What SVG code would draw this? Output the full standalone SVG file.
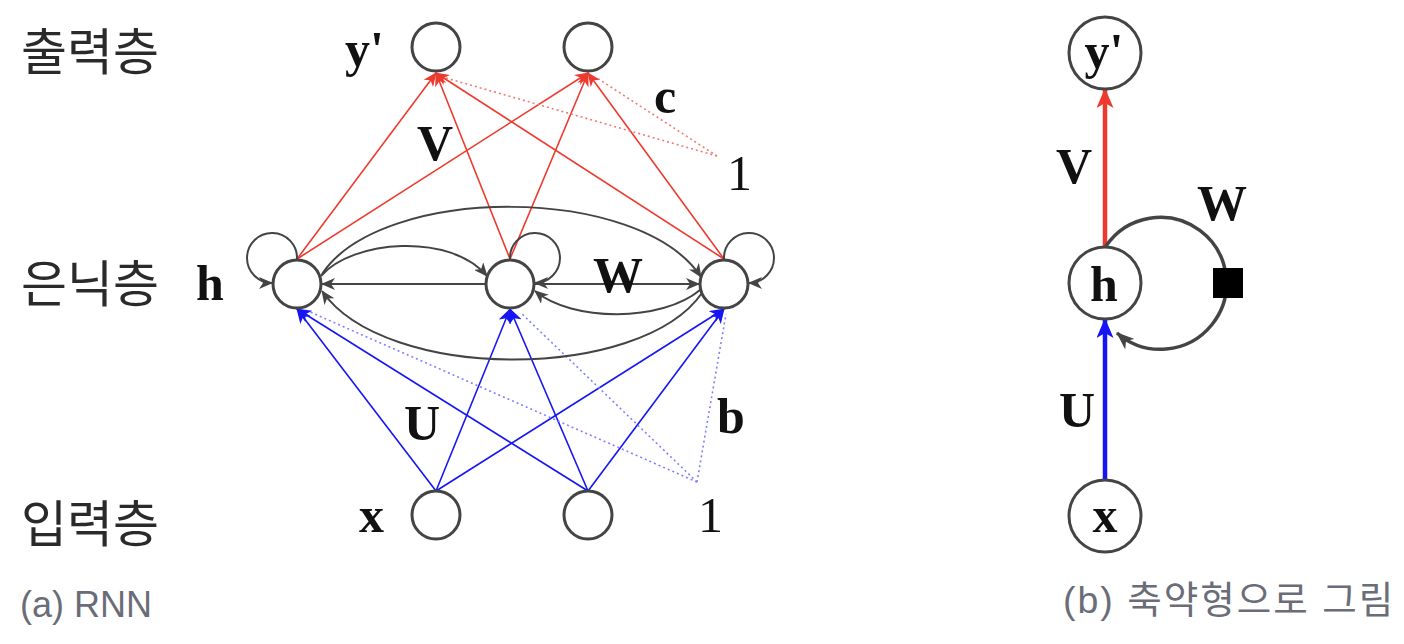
<svg xmlns="http://www.w3.org/2000/svg" width="1404" height="644" viewBox="0 0 1404 644">
<style>
.node{fill:#fff;stroke:#444;stroke-width:3}
.nodeb{fill:#fff;stroke:#444;stroke-width:3}
.red{stroke:#ee3a2e;stroke-width:1.6;fill:none}
.blue{stroke:#1515f5;stroke-width:1.6;fill:none}
.redd{stroke:#f07a72;stroke-width:1.6;fill:none;stroke-dasharray:2 3}
.blued{stroke:#8080ff;stroke-width:1.6;fill:none;stroke-dasharray:2 3}
.gray{stroke:#444;stroke-width:2;fill:none}
.lbl{font-family:"Liberation Serif",serif;font-weight:bold;font-size:50px;fill:#111}
.one{font-family:"Liberation Serif",serif;font-size:50px;fill:#111}
.kor{font-family:"Noto Sans CJK KR","Noto Sans",sans-serif;font-size:50px;fill:#2a2a2a}
.cap{font-family:"Liberation Sans","Noto Sans CJK KR",sans-serif;font-size:36px;fill:#6a6d78}
.capk{font-family:"Liberation Sans","Noto Sans CJK KR",sans-serif;font-size:37.5px;letter-spacing:2px;fill:#6a6d78}
</style>
<defs>
<marker id="ag" markerUnits="userSpaceOnUse" markerWidth="14" markerHeight="12" refX="13" refY="6" orient="auto" viewBox="0 0 14 12"><path d="M0,0 L14,6 L0,12 L4,6 z" fill="#444"/></marker>
<marker id="ar" markerUnits="userSpaceOnUse" markerWidth="14" markerHeight="12" refX="13" refY="6" orient="auto" viewBox="0 0 14 12"><path d="M0,0 L14,6 L0,12 L4,6 z" fill="#ee3a2e"/></marker>
<marker id="ab" markerUnits="userSpaceOnUse" markerWidth="15" markerHeight="13" refX="14" refY="6.5" orient="auto" viewBox="0 0 15 13"><path d="M0,0 L15,6.5 L0,13 L4,6.5 z" fill="#1515f5"/></marker>
<marker id="arB" markerUnits="userSpaceOnUse" markerWidth="20" markerHeight="17" refX="19" refY="8.5" orient="auto" viewBox="0 0 20 17"><path d="M0,0 L20,8.5 L0,17 L5,8.5 z" fill="#ee3a2e"/></marker>
<marker id="abB" markerUnits="userSpaceOnUse" markerWidth="20" markerHeight="17" refX="19" refY="8.5" orient="auto" viewBox="0 0 20 17"><path d="M0,0 L20,8.5 L0,17 L5,8.5 z" fill="#1515f5"/></marker>
<marker id="agB" markerUnits="userSpaceOnUse" markerWidth="18" markerHeight="14" refX="17" refY="7" orient="auto" viewBox="0 0 18 14"><path d="M0,0 L18,7 L0,14 L5,7 z" fill="#444"/></marker>
</defs>

<g id="layer-labels">
<text class="kor" x="21" y="70">출력층</text>
<text class="kor" x="21" y="302">은닉층</text>
<text class="kor" x="21" y="542">입력층</text>
<text class="cap" x="20" y="617">(a) RNN</text>
<text class="capk" x="1063" y="613">(b) 축약형으로 그림</text>
</g>

<g id="connectors">
<!-- red: hidden to output -->
<line class="red" x1="297" y1="259" x2="436" y2="73" marker-end="url(#ar)"/>
<line class="red" x1="297" y1="259" x2="588" y2="73" marker-end="url(#ar)"/>
<line class="red" x1="510" y1="259" x2="436" y2="73" marker-end="url(#ar)"/>
<line class="red" x1="510" y1="259" x2="588" y2="73" marker-end="url(#ar)"/>
<line class="red" x1="724" y1="259" x2="436" y2="73" marker-end="url(#ar)"/>
<line class="red" x1="724" y1="259" x2="588" y2="73" marker-end="url(#ar)"/>
<line class="redd" x1="717" y1="156" x2="446" y2="78"/>
<line class="redd" x1="717" y1="156" x2="597" y2="78"/>
<!-- blue: input to hidden -->
<line class="blue" x1="436" y1="491" x2="297" y2="309" marker-end="url(#ab)"/>
<line class="blue" x1="436" y1="491" x2="510" y2="309" marker-end="url(#ab)"/>
<line class="blue" x1="436" y1="491" x2="724" y2="309" marker-end="url(#ab)"/>
<line class="blue" x1="588" y1="491" x2="297" y2="309" marker-end="url(#ab)"/>
<line class="blue" x1="588" y1="491" x2="510" y2="309" marker-end="url(#ab)"/>
<line class="blue" x1="588" y1="491" x2="724" y2="309" marker-end="url(#ab)"/>
<line class="blued" x1="697" y1="482" x2="310" y2="312"/>
<line class="blued" x1="697" y1="482" x2="522" y2="314"/>
<line class="blued" x1="697" y1="482" x2="726" y2="314"/>
<!-- gray recurrent -->
<path class="gray" d="M297,259 A25,25 0 1 0 272,283" marker-end="url(#ag)"/>
<path class="gray" d="M510,259 A25,25 0 1 1 535,283" marker-end="url(#ag)"/>
<path class="gray" d="M724,259 A25,25 0 1 1 749,283" marker-end="url(#ag)"/>
<path class="gray" d="M321,276 C352,240 450,232 487,276" marker-end="url(#ag)"/>
<line class="gray" x1="486" y1="284" x2="322" y2="284" marker-end="url(#ag)"/>
<line class="gray" x1="534" y1="284" x2="699" y2="284" marker-end="url(#ag)"/>
<path class="gray" d="M700,290 C662,322 572,322 535,291" marker-end="url(#ag)"/>
<path class="gray" d="M322,274 C382,184 640,184 701,277" marker-end="url(#ag)"/>
<path class="gray" d="M702,293 C640,382 385,382 322,291" marker-end="url(#ag)"/>
<!-- right panel -->
<line x1="1105" y1="246" x2="1105" y2="89" stroke="#ee3a2e" stroke-width="4.5" marker-end="url(#arB)"/>
<line x1="1105" y1="479" x2="1105" y2="319" stroke="#1515f5" stroke-width="4.5" marker-end="url(#abB)"/>
<path d="M1106,246 A66,66 0 1 1 1117,333" fill="none" stroke="#444" stroke-width="3.5" marker-end="url(#agB)"/>
</g>

<g id="node-y1"><circle class="node" cx="436" cy="47" r="24"/></g>
<g id="node-y2"><circle class="node" cx="588" cy="47" r="24"/></g>
<g id="node-h1"><circle class="node" cx="297" cy="284" r="24"/></g>
<g id="node-h2"><circle class="node" cx="510" cy="284" r="24"/></g>
<g id="node-h3"><circle class="node" cx="724" cy="284" r="24"/></g>
<g id="node-x1"><circle class="node" cx="436" cy="515" r="24"/></g>
<g id="node-x2"><circle class="node" cx="588" cy="515" r="24"/></g>

<g id="labels-a">
<text class="lbl" x="345" y="66">y'</text>
<text class="lbl" x="417" y="160">V</text>
<text class="lbl" x="654" y="113">c</text>
<text class="one" x="727" y="190">1</text>
<text class="lbl" x="196" y="300">h</text>
<text class="lbl" x="593" y="292">W</text>
<text class="lbl" x="404" y="440">U</text>
<text class="lbl" x="717" y="433">b</text>
<text class="lbl" x="359" y="532">x</text>
<text class="one" x="698" y="532">1</text>
</g>

<g id="node-yp"><circle class="nodeb" cx="1105" cy="53" r="36"/><text class="lbl" x="1104" y="68" text-anchor="middle">y'</text></g>
<g id="node-h"><circle class="nodeb" cx="1105" cy="283" r="36"/><text class="lbl" x="1104" y="301" text-anchor="middle">h</text></g>
<g id="node-x"><circle class="nodeb" cx="1105" cy="516" r="36"/><text class="lbl" x="1105" y="532" text-anchor="middle">x</text></g>
<g id="delay"><rect x="1213" y="268" width="30" height="30" fill="#000"/></g>
<g id="labels-b">
<text class="lbl" x="1056" y="183">V</text>
<text class="lbl" x="1197" y="220">W</text>
<text class="lbl" x="1059" y="427">U</text>
</g>
</svg>
